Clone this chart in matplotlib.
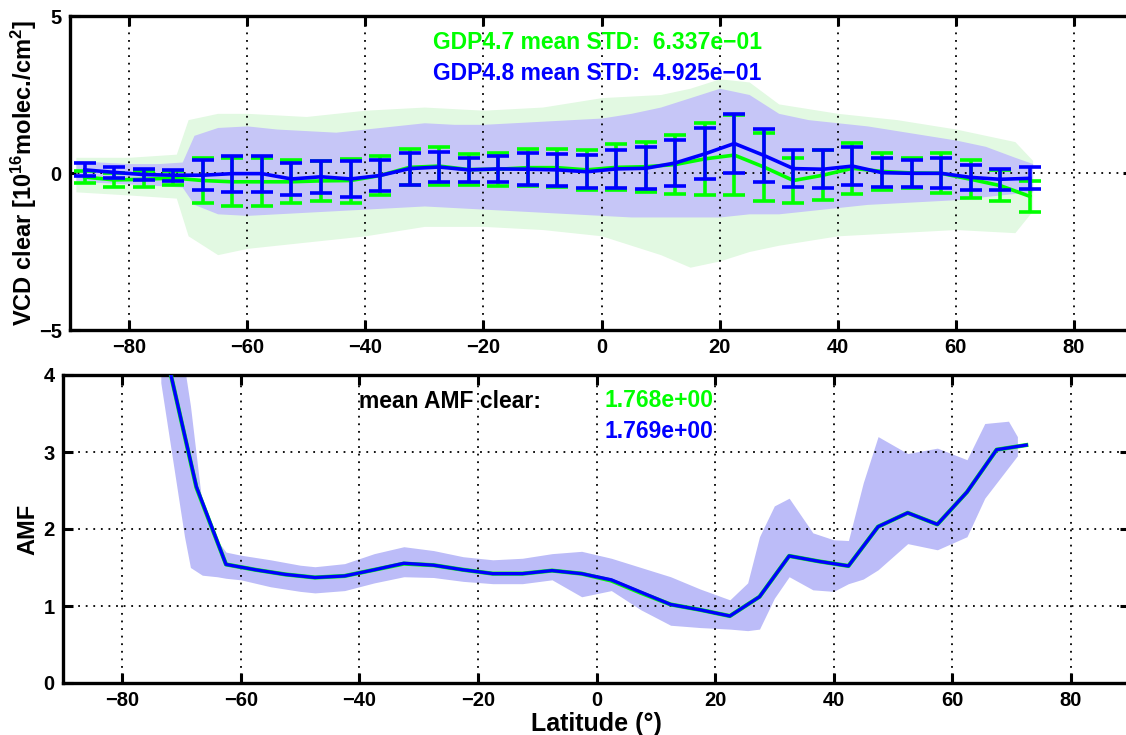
import matplotlib
matplotlib.use("Agg")
import matplotlib.pyplot as plt

plt.rcParams['font.family'] = ['Liberation Sans', 'DejaVu Sans']
plt.rcParams['font.weight'] = 'bold'
plt.rcParams['mathtext.fontset'] = 'custom'
plt.rcParams['mathtext.rm'] = 'Liberation Sans:bold'
plt.rcParams['mathtext.bf'] = 'Liberation Sans:bold'
plt.rcParams['mathtext.it'] = 'Liberation Sans:bold'

# ---------------- data ----------------
lat_bins = [-87.5, -82.5, -77.5, -72.5, -67.5, -62.5, -57.5, -52.5, -47.5, -42.5,
            -37.5, -32.5, -27.5, -22.5, -17.5, -12.5, -7.5, -2.5, 2.5, 7.5,
            12.5, 17.5, 22.5, 27.5, 32.5, 37.5, 42.5, 47.5, 52.5, 57.5,
            62.5, 67.5, 72.5]

vcd_mean_gdp48 = [0.10, 0.02, -0.05, -0.07, -0.07, -0.02, -0.02, -0.19, -0.12, -0.19,
                  -0.08, 0.14, 0.19, 0.10, 0.13, 0.12, 0.10, 0.04, 0.13, 0.15,
                  0.32, 0.61, 0.94, 0.56, 0.14, 0.12, 0.22, 0.01, -0.01, -0.01,
                  -0.14, -0.20, -0.17]
vcd_std_gdp48 = [0.21, 0.18, 0.17, 0.17, 0.48, 0.57, 0.57, 0.51, 0.51, 0.58,
                 0.50, 0.51, 0.47, 0.38, 0.41, 0.51, 0.50, 0.53, 0.60, 0.67,
                 0.73, 0.81, 0.94, 0.84, 0.60, 0.61, 0.60, 0.47, 0.43, 0.48,
                 0.40, 0.33, 0.35]
vcd_mean_gdp47 = [-0.13, -0.22, -0.20, -0.16, -0.24, -0.28, -0.28, -0.28, -0.25, -0.24,
                  -0.08, 0.18, 0.22, 0.11, 0.12, 0.17, 0.17, 0.10, 0.18, 0.20,
                  0.27, 0.45, 0.57, 0.19, -0.24, -0.07, 0.15, 0.05, 0.00, -0.01,
                  -0.20, -0.40, -0.74]
vcd_std_gdp47 = [0.18, 0.22, 0.26, 0.22, 0.71, 0.77, 0.77, 0.69, 0.63, 0.70,
                 0.62, 0.57, 0.60, 0.49, 0.52, 0.58, 0.60, 0.63, 0.73, 0.80,
                 0.94, 1.15, 1.27, 1.07, 0.71, 0.79, 0.82, 0.60, 0.47, 0.64,
                 0.61, 0.48, 0.49]

# spread of individual VCD pixels (envelopes read from the point clouds)
vcd48_cloud_lat = [-89, -85, -80, -75, -71, -69, -65, -60, -55, -50, -45, -40, -35, -30,
                   -25, -20, -15, -10, -5, 0, 5, 10, 15, 20, 25, 30, 35, 40, 45, 50,
                   55, 60, 65, 70, 73]
vcd48_cloud_lo = [-0.3, -0.3, -0.35, -0.4, -0.45, -1.0, -1.3, -1.35, -1.3, -1.25, -1.2,
                  -1.15, -1.1, -1.05, -1.1, -1.15, -1.2, -1.25, -1.3, -1.35, -1.4, -1.4,
                  -1.4, -1.4, -1.3, -1.3, -1.2, -1.1, -1.0, -0.95, -0.9, -0.85, -0.75,
                  -0.65, -0.6]
vcd48_cloud_hi = [0.4, 0.35, 0.3, 0.3, 0.35, 1.2, 1.45, 1.5, 1.4, 1.35, 1.3, 1.4, 1.5,
                  1.6, 1.55, 1.55, 1.6, 1.65, 1.7, 1.75, 1.9, 2.1, 2.4, 2.7, 2.5, 1.9,
                  1.7, 1.6, 1.5, 1.35, 1.2, 1.05, 0.85, 0.5, 0.3]
vcd47_cloud_lat = [-89, -80, -72, -70, -65, -60, -50, -40, -30, -20, -10, 0, 10, 15,
                   20, 25, 30, 40, 50, 60, 70, 73]
vcd47_cloud_lo = [-0.6, -0.7, -0.8, -2.0, -2.6, -2.4, -2.2, -2.0, -1.7, -1.7, -1.8, -2.0,
                  -2.6, -3.0, -2.8, -2.5, -2.3, -2.0, -1.9, -1.8, -1.9, -1.2]
vcd47_cloud_hi = [0.5, 0.5, 0.6, 1.7, 1.9, 1.9, 1.8, 2.0, 2.1, 2.0, 2.1, 2.4, 2.5, 2.7,
                  3.0, 2.9, 2.2, 1.9, 1.7, 1.4, 1.0, 0.4]

amf_lat = [-72.5, -67.5, -62.5, -57.5, -52.5, -47.5, -42.5, -37.5, -32.5, -27.5,
           -22.5, -17.5, -12.5, -7.5, -2.5, 2.5, 7.5, 12.5, 17.5, 22.5,
           27.5, 32.5, 37.5, 42.5, 47.5, 52.5, 57.5, 62.5, 67.5, 72.5]
amf_gdp47 = [4.24, 2.54, 1.54, 1.47, 1.41, 1.37, 1.39, 1.47, 1.55, 1.53,
             1.47, 1.42, 1.42, 1.46, 1.42, 1.33, 1.17, 1.02, 0.95, 0.87,
             1.12, 1.65, 1.58, 1.52, 2.03, 2.21, 2.06, 2.48, 3.03, 3.09]
amf_gdp48 = [4.24, 2.55, 1.54, 1.47, 1.41, 1.37, 1.39, 1.47, 1.555, 1.53,
             1.47, 1.42, 1.42, 1.46, 1.42, 1.34, 1.18, 1.02, 0.95, 0.87,
             1.12, 1.65, 1.58, 1.52, 2.03, 2.21, 2.06, 2.48, 3.03, 3.09]

amf_cloud_lat = [-73.5, -71.5, -69.5, -68.5, -66.5, -64, -62.5, -60, -55, -50, -47.5,
                 -42.5, -37.5, -32.5, -27.5, -22.5, -17.5, -12.5, -7.5, -2.5, 2.5,
                 7.5, 12.5, 17.5, 22.5, 25.5, 27.5, 30, 32.5, 36.5, 40, 42.5, 45,
                 47.5, 52.5, 57.5, 62.5, 65.5, 69.5, 71]
amf_cloud_lo = [3.9, 2.9, 1.9, 1.5, 1.4, 1.38, 1.36, 1.34, 1.25, 1.19, 1.17, 1.2, 1.3,
                1.38, 1.37, 1.32, 1.29, 1.29, 1.34, 1.12, 1.2, 0.95, 0.75, 0.72, 0.7,
                0.68, 0.7, 1.1, 1.38, 1.21, 1.19, 1.29, 1.35, 1.47, 1.81, 1.73, 1.9,
                2.4, 2.8, 2.95]
amf_cloud_hi = [4.1, 4.1, 4.1, 3.6, 2.3, 1.85, 1.7, 1.66, 1.6, 1.53, 1.51, 1.55, 1.68,
                1.77, 1.72, 1.64, 1.60, 1.62, 1.68, 1.71, 1.62, 1.5, 1.38, 1.22, 1.08,
                1.3, 1.9, 2.3, 2.4, 1.95, 1.86, 1.85, 2.6, 3.2, 2.98, 3.05, 2.9, 3.37,
                3.4, 3.2]

lat_ticks = [-80, -60, -40, -20, 0, 20, 40, 60, 80]
vcd_ticks = [-5, 0, 5]
amf_ticks = [0, 1, 2, 3, 4]

GREEN = '#00ff00'
BLUE = '#0000ff'
W, H = 1126, 735

fig = plt.figure(figsize=(W / 100, H / 100), dpi=100)
ax1 = fig.add_axes([70 / W, (H - 330) / H, (1133 - 70) / W, 314 / H])
ax2 = fig.add_axes([63 / W, (H - 683) / H, (1130 - 63) / W, 308 / H])

grid_kw = dict(color='black', linestyle=(0, (1, 3.2)), linewidth=1.3)

for ax in (ax1, ax2):
    ax.set_xlim(-90, 90)
    ax.set_xticks(lat_ticks)
    ax.tick_params(direction='in', length=7, width=2.2, top=True, right=True,
                   labelsize=14.5, pad=6)
    for s in ax.spines.values():
        s.set_linewidth(2.4)
    for lab in ax.get_xticklabels() + ax.get_yticklabels():
        lab.set_fontweight('bold')

# ---------------- top panel ----------------
ax1.set_ylim(-5, 5)
ax1.set_yticks(vcd_ticks)
ax1.fill_between(vcd47_cloud_lat, vcd47_cloud_lo, vcd47_cloud_hi,
                 color='#e2f9e2', lw=0, zorder=1)
ax1.fill_between(vcd48_cloud_lat, vcd48_cloud_lo, vcd48_cloud_hi,
                 color='#c6c6f7', lw=0, zorder=2)
for xv in lat_ticks:
    ax1.axvline(xv, zorder=2.5, **grid_kw)
ax1.axhline(0, zorder=2.5, **grid_kw)
ax1.errorbar(lat_bins, vcd_mean_gdp47, yerr=vcd_std_gdp47, color=GREEN,
             lw=2.6, elinewidth=2.6, capsize=8, capthick=2.6, zorder=3)
ax1.errorbar(lat_bins, vcd_mean_gdp48, yerr=vcd_std_gdp48, color=BLUE,
             lw=2.6, elinewidth=2.6, capsize=8, capthick=2.6, zorder=4)
ax1.set_ylabel(r'VCD clear [10$^{16}$molec./cm$^{2}$]', fontsize=17,
               fontweight='bold')
ax1.yaxis.set_label_coords((39 - 70) / 1063, 0.5)
ax1.text(-28.5, 3.95, 'GDP4.7 mean STD:  6.337e\u221201', color=GREEN,
         fontsize=16.5, fontweight='bold', ha='left', va='baseline', zorder=5)
ax1.text(-28.5, 2.96, 'GDP4.8 mean STD:  4.925e\u221201', color=BLUE,
         fontsize=16.5, fontweight='bold', ha='left', va='baseline', zorder=5)

# ---------------- bottom panel ----------------
ax2.set_ylim(0, 4)
ax2.set_yticks(amf_ticks)
ax2.fill_between(amf_cloud_lat, amf_cloud_lo, amf_cloud_hi,
                 color='#bcbcf8', lw=0, zorder=1)
for xv in lat_ticks:
    ax2.axvline(xv, zorder=2, **grid_kw)
for yv in amf_ticks[1:4]:
    ax2.axhline(yv, zorder=2, **grid_kw)
ax2.plot(amf_lat, amf_gdp47, color=GREEN, lw=3.0, zorder=3)
ax2.plot(amf_lat, amf_gdp48, color=BLUE, lw=2.4, zorder=4)
ax2.set_ylabel('AMF', fontsize=17, fontweight='bold')
ax2.yaxis.set_label_coords((39 - 63) / 1067, 0.5)
ax2.set_xlabel('Latitude (\u00b0)', fontsize=18, fontweight='bold', labelpad=1)
ax2.text(-40, 3.57, 'mean AMF clear:', color='black', fontsize=16.5,
         fontweight='bold', ha='left', va='baseline', zorder=5)
ax2.text(1.4, 3.58, '1.768e+00', color=GREEN, fontsize=16.5,
         fontweight='bold', ha='left', va='baseline', zorder=5)
ax2.text(1.4, 3.18, '1.769e+00', color=BLUE, fontsize=16.5,
         fontweight='bold', ha='left', va='baseline', zorder=5)

fig.savefig('out.png', dpi=100)
